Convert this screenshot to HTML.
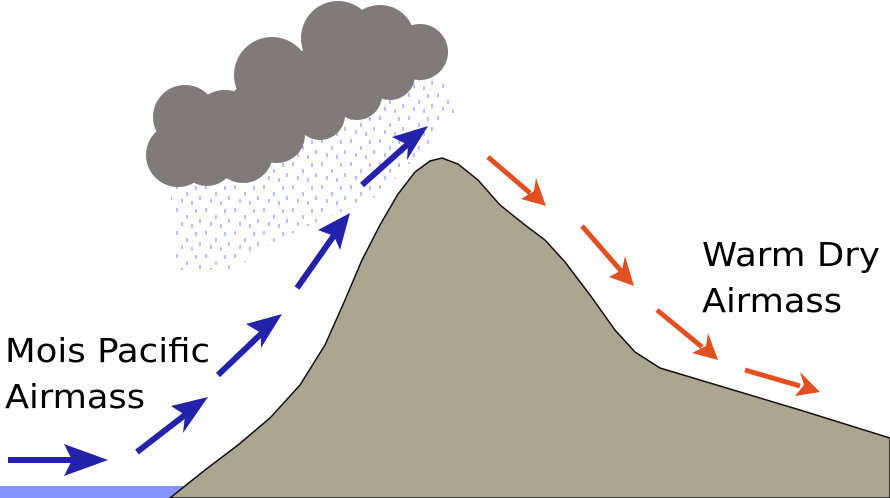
<!DOCTYPE html>
<html><head><style>
html,body{margin:0;padding:0;background:#fff;width:890px;height:498px;overflow:hidden}
svg text{font-family:"DejaVu Sans","Liberation Sans",sans-serif}
</style></head><body>
<svg width="890" height="498" viewBox="0 0 890 498" xmlns="http://www.w3.org/2000/svg">
<defs>
<pattern id="rain" width="29" height="23" patternUnits="userSpaceOnUse">
<g stroke="#7f8cff" stroke-width="1.1">
<line x1="3" y1="1" x2="3" y2="5"/><line x1="13" y1="8" x2="13" y2="12"/><line x1="22" y1="2" x2="22" y2="6"/>
<line x1="8" y1="15" x2="8" y2="19"/><line x1="18" y1="17" x2="18" y2="21"/><line x1="26" y1="12" x2="26" y2="16"/>
</g></pattern>
</defs>
<polygon points="170,180 240,175 320,95 445,75 455,115 380,195 310,225 260,250 235,270 175,270" fill="url(#rain)"/>
<g fill="#807a7a">
<circle cx="185" cy="117" r="32"/><circle cx="178" cy="155" r="32"/><circle cx="207" cy="158" r="28"/>
<circle cx="225" cy="125" r="35"/><circle cx="243" cy="153" r="30"/><circle cx="277" cy="135" r="28"/>
<circle cx="260" cy="115" r="35"/><circle cx="272" cy="75" r="38"/><circle cx="300" cy="100" r="35"/>
<circle cx="320" cy="115" r="25"/><circle cx="357" cy="95" r="25"/><circle cx="335" cy="70" r="38"/>
<circle cx="338" cy="38" r="37"/><circle cx="380" cy="40" r="35"/><circle cx="390" cy="75" r="25"/>
<circle cx="420" cy="52" r="28"/><circle cx="400" cy="55" r="25"/>
</g>
<rect x="0" y="486" width="200" height="12" fill="#8894ff"/>
<path d="M170,498 L205,470 L238,445 L270,418 L300,385 L325,345 L345,300 L362,260 L380,225 L398,194 L415,172 L430,161 L442,158 L458,164 L478,180 L500,205 L525,225 L545,240 L565,262 L590,295 L615,330 L635,352 L660,368 L720,386 L800,410 L890,438 L890,498 Z" fill="#aba692" stroke="#111" stroke-width="1.5"/>
<g fill="#2222aa" stroke="#2222aa">
<line x1="8" y1="460" x2="80" y2="460" stroke-width="6"/><polygon points="108,460 64,444 72,460 64,476" stroke="none"/>
<line x1="137" y1="452" x2="185" y2="415" stroke-width="6"/><polygon points="208,397 171,406 185,415 183,433" stroke="none"/>
<line x1="218" y1="375" x2="262" y2="333" stroke-width="6"/><polygon points="282,314 246,324 261,333 261,348" stroke="none"/>
<line x1="297" y1="288" x2="335" y2="234" stroke-width="6"/><polygon points="350,213 318,230 334,236 340,250" stroke="none"/>
<line x1="362" y1="185" x2="408" y2="144" stroke-width="6"/><polygon points="428,126 392,137 408,145 407,160" stroke="none"/>
</g>
<g fill="#e05020" stroke="#e05020">
<line x1="488" y1="157" x2="530" y2="193" stroke-width="5"/><polygon points="546,206 521,199 534,191 536,178" stroke="none"/>
<line x1="582" y1="226" x2="622" y2="272" stroke-width="5"/><polygon points="634,286 609,277 622,270 625,256" stroke="none"/>
<line x1="657" y1="310" x2="702" y2="347" stroke-width="5"/><polygon points="718,360 692,353 706,346 708,333" stroke="none"/>
<line x1="745" y1="370" x2="800" y2="386" stroke-width="5"/><polygon points="820,392 795,396 804,385 800,372" stroke="none"/>
</g>
<text x="5" y="362" font-size="33" fill="#000" textLength="205" lengthAdjust="spacingAndGlyphs">Mois Pacific</text>
<text x="5" y="408" font-size="33" fill="#000" textLength="140" lengthAdjust="spacingAndGlyphs">Airmass</text>
<text x="702" y="266" font-size="33" fill="#000" textLength="178" lengthAdjust="spacingAndGlyphs">Warm Dry</text>
<text x="702" y="312" font-size="33" fill="#000" textLength="140" lengthAdjust="spacingAndGlyphs">Airmass</text>
</svg>
</body></html>
